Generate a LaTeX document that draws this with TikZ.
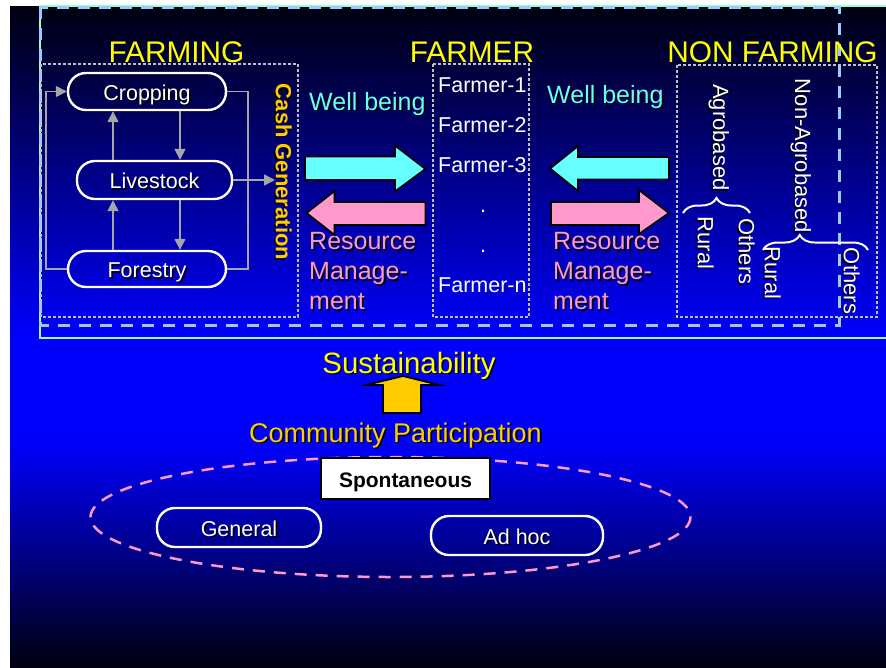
\documentclass[tikz,border=0pt]{standalone}
\usepackage{fontspec}
\setmainfont{Liberation Sans}
\usetikzlibrary{decorations.pathreplacing,arrows.meta}

\definecolor{bgDark}{HTML}{000010}
\definecolor{bgBlue}{HTML}{0000FF}
\definecolor{frameGreen}{HTML}{99FFCC}
\definecolor{frameBlue}{HTML}{99CCFF}
\definecolor{boxGray}{HTML}{C0C0C0}
\definecolor{linkGray}{HTML}{A6A6A6}
\definecolor{wellCyan}{HTML}{66FFFF}
\definecolor{resPink}{HTML}{FF99CC}
\definecolor{headYellow}{HTML}{FFFF00}
\definecolor{gold}{HTML}{FFCC00}

% text with a small black drop shadow
\newcommand\shadowed[1]{\leavevmode\rlap{\kern1.6pt\raisebox{-1.6pt}{\color{black}#1}}#1}

\begin{document}
\begin{tikzpicture}[x=1pt,y=-1pt,
  heading/.style={text=headYellow,font=\fontsize{29.8}{35}\selectfont,anchor=base,inner sep=0pt},
  activity/.style={draw=white,line width=2.4pt,rounded corners=18pt,text=white,
    font=\fontsize{21.5}{26}\selectfont,text height=17pt,text depth=0pt,inner sep=0pt},
  link/.style={draw=linkGray,line width=1.5pt,-{Triangle[length=11pt,width=11pt]}},
  plainlink/.style={draw=linkGray,line width=1.5pt},
  groupbox/.style={draw=boxGray,line width=1.2pt,dash pattern=on 3pt off 2pt},
  farmerlbl/.style={text=white,font=\fontsize{21.5}{26}\selectfont,anchor=base west,inner sep=0pt},
  flowlbl/.style={font=\fontsize{25}{30}\selectfont,inner sep=0pt},
  vtext/.style={rotate=-90,text=white,font=\fontsize{22}{26}\selectfont,inner sep=0pt},
  blockarrow/.style={draw=black,line width=1.8pt,line join=miter},
  catbrace/.style={draw=white,line width=2pt,decorate},
]
\useasboundingbox (0,0) rectangle (886,667);
\fill[white] (0,0) rectangle (886,667);

% background gradient
\shade[top color=bgDark,bottom color=bgBlue] (10,6) rectangle (886,340);
\fill[bgBlue] (10,339.5) rectangle (886,440.5);
\shade[top color=bgBlue,bottom color=bgDark] (10,440) rectangle (886,667);

% frames around the upper part
\draw[frameGreen,line width=2pt] (886,6) -- (40,6) -- (40,338) -- (886,338);
\draw[frameBlue,line width=3pt,dash pattern=on 12pt off 9pt] (40,7) rectangle (839,325);

% group boxes
\draw[groupbox] (41,64) rectangle (298,317);
\draw[groupbox] (433,64) rectangle (529,317);
\draw[groupbox] (677,65) rectangle (877,317);

% headings
\node[heading] (farming) at (176.5,62) {FARMING};
\node[heading] (farmer) at (472,62) {FARMER};
\node[heading] (nonfarming) at (772.5,62) {NON FARMING};

% farming activities
\node[activity,minimum width=158pt,minimum height=37pt] (crop) at (147,91.5) {\shadowed{Cropping}};
\node[activity,minimum width=155pt,minimum height=38pt] (live) at (154.5,180) {\shadowed{Livestock}};
\node[activity,minimum width=158pt,minimum height=36pt] (forest) at (147,269) {\shadowed{Forestry}};

\coordinate (upX) at (113,0);
\coordinate (dnX) at (180,0);
\coordinate (cashIn) at (275,180);

\draw[link] (forest.west) -- ++(-21,0) |- (crop.west);
\draw[plainlink] (crop.east) -- ++(21,0) |- (forest.east);
\draw[link] (live.east) -- (cashIn);
\draw[link] (upX |- live.north) -- (upX |- crop.south);
\draw[link] (dnX |- crop.south) -- (dnX |- live.north);
\draw[link] (upX |- forest.north) -- (upX |- live.south);
\draw[link] (dnX |- live.south) -- (dnX |- forest.north);

\node[rotate=-90,text=gold,font=\bfseries\fontsize{22}{26}\selectfont,inner sep=0pt] (cash) at (283,172) {\shadowed{Cash Generation}};

% farmers
\node[farmerlbl] (f1) at (438,92) {Farmer-1};
\node[farmerlbl] (f2) at (438,132) {Farmer-2};
\node[farmerlbl] (f3) at (438,172) {Farmer-3};
\node[farmerlbl,anchor=base] (fdotA) at (483,212) {.};
\node[farmerlbl,anchor=base] (fdotB) at (483,252) {.};
\node[farmerlbl] (fn) at (438,292) {Farmer-n};

% flows between farming and farmers
\node[flowlbl,text=wellCyan,anchor=base west] (wellL) at (309,110) {\shadowed{Well being}};
\node[flowlbl,text=resPink,anchor=north west,align=left] (resL) at (309,232) {\shadowed{Resource}\\\shadowed{Manage-}\\\shadowed{ment}};
\filldraw[blockarrow,fill=wellCyan] (305,156.5) -- (395,156.5) -- (395,145.5) -- (425.5,169) -- (395,191.5) -- (395,180) -- (305,180) -- cycle;
\filldraw[blockarrow,fill=resPink] (425.5,202) -- (334.5,202) -- (334.5,191) -- (306.5,213) -- (334.5,235) -- (334.5,225) -- (425.5,225) -- cycle;

% flows between farmers and non farming
\node[flowlbl,text=wellCyan,anchor=base west] (wellR) at (547,103) {\shadowed{Well being}};
\node[flowlbl,text=resPink,anchor=north west,align=left] (resR) at (553,232) {\shadowed{Resource}\\\shadowed{Manage-}\\\shadowed{ment}};
\filldraw[blockarrow,fill=wellCyan] (669,157) -- (578,157) -- (578,146) -- (550,168.5) -- (578,191) -- (578,179.5) -- (669,179.5) -- cycle;
\filldraw[blockarrow,fill=resPink] (551,202) -- (639,202) -- (639,190) -- (669,213) -- (639,234) -- (639,225) -- (551,225) -- cycle;

% non farming categories
\node[vtext] (agro) at (718,137.5) {\shadowed{Agrobased}};
\node[vtext] (nonagro) at (800,156) {\shadowed{Non-Agrobased}};
\node[vtext] (ruralA) at (705,243) {\shadowed{Rural}};
\node[vtext] (othersA) at (746,251.5) {\shadowed{Others}};
\node[vtext] (ruralB) at (772,273) {\shadowed{Rural}};
\node[vtext] (othersB) at (851,281) {\shadowed{Others}};
\draw[catbrace,decoration={brace,amplitude=15pt}] (683,213) -- (750,213);
\draw[catbrace,decoration={brace,amplitude=15pt,aspect=0.35}] (763,250) -- (868,250);

% sustainability
\node[text=headYellow,font=\fontsize{29.4}{35}\selectfont,anchor=base,inner sep=0pt] (sustain) at (409,373) {\shadowed{Sustainability}};
\filldraw[blockarrow,fill=gold] (383,413) -- (383,385) -- (366,385) -- (403,376) -- (439,385) -- (421,385) -- (421,413) -- cycle;
\node[text=gold,font=\fontsize{27}{32}\selectfont,anchor=base,inner sep=0pt] (community) at (395.5,442) {\shadowed{Community Participation}};

% kinds of participation
\draw[resPink,line width=2.5pt,dash pattern=on 12pt off 9pt] (390.5,517) ellipse [x radius=300, y radius=60];
\node[draw=black,fill=white,line width=2pt,minimum width=169pt,minimum height=41pt,inner sep=0pt,
  font=\bfseries\fontsize{21}{25}\selectfont,text height=17pt,text depth=0pt] (spont) at (405.5,478.5) {Spontaneous};
\node[activity,minimum width=164pt,minimum height=39pt] (general) at (239,527.5) {\shadowed{General}};
\node[activity,minimum width=172pt,minimum height=39pt] (adhoc) at (517,535.5) {\shadowed{Ad hoc}};
\end{tikzpicture}
\end{document}
